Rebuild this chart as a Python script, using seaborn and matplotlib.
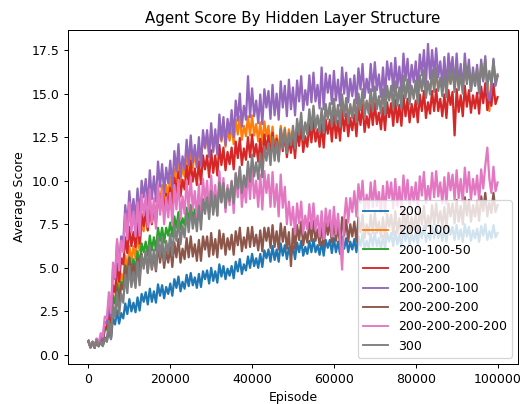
import pandas as pd
import matplotlib
matplotlib.use("Agg")
import matplotlib.pyplot as plt
import seaborn as sns

# --- Data (one value per 500 episodes) ---
EPISODES = list(range(0, 100001, 500))

SCORE_200 = [
    0.75, 0.45, 0.7, 0.4, 0.8, 0.5, 0.8, 0.55, 0.9, 0.8,
    1.45, 0.95, 2.1, 1.75, 2.55, 1.8, 2.4, 2.1, 2.95, 2.35,
    3.2, 2.5, 3.0, 2.45, 3.3, 2.55, 3.5, 3.05, 3.6, 2.9,
    3.8, 3.05, 3.65, 3.0, 4.05, 3.4, 4.0, 3.25, 3.9, 3.5,
    4.1, 3.4, 4.35, 3.85, 4.5, 3.65, 4.2, 3.8, 4.6, 3.95,
    4.7, 4.0, 4.45, 3.85, 4.65, 3.9, 4.8, 4.35, 4.85, 4.1,
    5.0, 4.25, 4.8, 4.15, 5.2, 4.5, 5.1, 4.35, 4.95, 4.55,
    5.1, 4.4, 5.35, 4.8, 5.5, 4.65, 5.2, 4.85, 5.65, 5.0,
    5.8, 5.1, 5.55, 5.0, 5.8, 5.05, 6.0, 5.55, 6.05, 5.35,
    6.25, 5.45, 6.05, 5.35, 6.4, 5.7, 6.3, 5.5, 6.15, 5.7,
    6.25, 5.5, 6.45, 5.9, 6.55, 5.7, 6.2, 5.8, 6.55, 5.9,
    6.65, 5.9, 6.3, 5.75, 6.5, 5.7, 6.6, 6.15, 6.6, 5.85,
    6.7, 5.9, 6.5, 5.8, 6.8, 6.1, 6.7, 5.9, 6.5, 6.05,
    6.65, 5.9, 6.8, 6.25, 6.95, 6.05, 6.55, 6.15, 6.95, 6.25,
    7.0, 6.25, 6.7, 6.1, 6.85, 6.1, 7.0, 6.5, 7.0, 6.25,
    7.1, 6.35, 6.9, 6.2, 7.25, 6.55, 7.1, 6.35, 6.95, 6.5,
    7.05, 6.35, 7.25, 6.7, 7.4, 6.5, 7.0, 6.6, 7.4, 6.7,
    7.45, 6.7, 7.15, 6.55, 7.3, 6.5, 7.4, 6.9, 7.35, 6.6,
    7.45, 6.65, 7.2, 6.5, 7.5, 6.8, 7.35, 6.55, 7.15, 6.7,
    7.25, 6.5, 7.4, 6.85, 7.5, 6.6, 7.1, 6.7, 7.45, 6.75,
    7.0,
]
SCORE_200_100 = [
    0.8, 0.45, 0.75, 0.45, 0.9, 0.6, 1.05, 0.85, 1.5, 1.45,
    2.4, 1.65, 3.4, 3.0, 4.45, 3.5, 4.65, 4.3, 5.7, 4.85,
    6.25, 5.35, 6.25, 5.55, 6.95, 6.0, 7.6, 7.1, 8.05, 7.15,
    8.7, 7.65, 8.7, 7.85, 9.55, 8.7, 9.75, 8.65, 9.75, 9.2,
    10.2, 9.2, 10.7, 9.95, 11.1, 9.9, 10.75, 10.25, 11.55, 10.5,
    11.75, 10.75, 11.55, 10.75, 12.05, 11.0, 12.5, 11.85, 12.65, 11.55,
    12.9, 11.75, 12.65, 11.7, 13.25, 12.25, 13.15, 11.95, 12.95, 12.3,
    13.2, 12.1, 13.5, 12.65, 13.7, 12.35, 13.15, 12.55, 13.7, 12.6,
    13.75, 12.6, 13.25, 12.25, 13.35, 12.1, 13.4, 12.55, 13.15, 11.9,
    13.1, 11.8, 12.6, 11.55, 13.15, 12.1, 13.05, 11.85, 12.95, 12.3,
    12.9, 12.35, 13.15, 12.8, 13.4, 12.75, 13.25, 12.95, 13.65, 13.15,
    13.8, 13.25, 13.6, 13.2, 13.85, 13.25, 14.0, 13.65, 14.1, 13.55,
    14.25, 13.65, 14.15, 13.6, 14.45, 13.9, 14.4, 13.75, 14.25, 13.9,
    14.4, 13.85, 14.6, 14.2, 14.75, 14.05, 14.5, 14.15, 14.8, 14.25,
    14.9, 14.35, 14.7, 14.3, 14.95, 14.3, 15.05, 14.7, 15.1, 14.55,
    15.25, 14.65, 15.15, 14.65, 15.5, 14.95, 15.45, 14.85, 15.3, 15.0,
    15.5, 14.9, 15.65, 15.3, 15.85, 15.15, 15.6, 15.25, 15.9, 15.35,
    16.0, 15.4, 15.75, 15.3, 15.95, 15.3, 16.05, 15.65, 16.1, 15.5,
    16.15, 15.55, 16.0, 15.5, 16.3, 15.75, 16.25, 15.6, 16.1, 15.75,
    16.2, 15.6, 16.35, 15.95, 16.45, 15.8, 14.0, 15.85, 16.45, 15.9,
    16.0,
]
SCORE_200_100_50 = [
    0.8, 0.45, 0.75, 0.45, 0.9, 0.6, 1.05, 0.85, 1.5, 1.45,
    2.3, 1.8, 3.3, 2.95, 4.1, 3.3, 4.2, 4.0, 5.15, 4.5,
    5.6, 4.85, 5.5, 4.9, 5.95, 5.15, 6.4, 5.9, 6.5, 5.7,
    6.85, 6.0, 6.75, 6.0, 7.3, 6.55, 7.3, 6.45, 7.3, 6.85,
    7.6, 6.8, 7.95, 7.3, 8.2, 7.2, 7.85, 7.45, 8.45, 7.65,
    8.6, 7.8, 8.35, 7.65, 8.65, 7.8, 8.95, 8.4, 9.0, 8.2,
    9.3, 8.4, 9.15, 8.4, 9.65, 8.85, 9.6, 8.75, 9.55, 9.05,
    9.8, 8.95, 10.1, 9.45, 10.3, 9.25, 9.95, 9.55, 10.55, 9.75,
    10.1,
]
SCORE_200_200 = [
    0.8, 0.45, 0.75, 0.45, 0.9, 0.6, 1.05, 0.85, 1.6, 1.55,
    2.6, 1.9, 4.0, 3.6, 5.25, 4.2, 5.55, 5.2, 6.75, 5.85,
    7.35, 6.25, 7.05, 6.2, 7.6, 6.4, 8.1, 7.4, 8.3, 7.15,
    8.75, 7.5, 8.6, 7.55, 9.35, 8.25, 9.35, 8.15, 9.25, 8.6,
    9.6, 8.45, 10.15, 9.3, 10.5, 9.1, 10.05, 9.5, 10.85, 9.8,
    11.15, 9.95, 10.7, 9.75, 11.1, 9.8, 11.45, 10.65, 11.45, 10.2,
    11.75, 10.45, 11.45, 10.3, 12.05, 10.9, 11.9, 10.6, 11.65, 10.95,
    11.9, 10.65, 12.25, 11.3, 12.45, 10.9, 11.85, 11.2, 12.5, 11.35,
    12.65, 11.4, 12.1, 11.1, 12.4, 11.05, 12.65, 11.8, 12.6, 11.3,
    12.75, 11.4, 12.4, 11.2, 12.9, 11.7, 12.7, 11.35, 12.35, 11.6,
    12.5, 11.3, 12.9, 12.0, 13.15, 11.65, 12.55, 11.95, 13.25, 12.2,
    13.45, 12.25, 12.95, 11.95, 13.25, 11.9, 13.5, 12.7, 13.5, 12.25,
    13.75, 12.45, 13.45, 12.3, 14.0, 12.85, 13.85, 12.55, 13.6, 12.9,
    13.8, 12.55, 14.15, 13.2, 14.35, 12.8, 13.7, 13.05, 14.35, 13.2,
    14.45, 13.25, 13.9, 12.95, 14.2, 12.9, 14.5, 13.65, 14.45, 13.15,
    14.65, 13.35, 14.35, 13.15, 14.9, 13.7, 14.7, 13.35, 14.4, 13.65,
    14.6, 13.35, 14.95, 14.0, 15.15, 13.6, 14.5, 13.85, 15.15, 14.0,
    15.25, 14.0, 14.7, 13.7, 14.95, 13.6, 15.2, 14.35, 15.1, 12.6,
    15.25, 13.95, 14.9, 13.7, 15.45, 14.25, 15.2, 13.9, 14.9, 14.15,
    15.05, 13.85, 15.4, 14.45, 15.6, 14.05, 14.9, 14.3, 15.55, 14.4,
    14.8,
]
SCORE_200_200_100 = [
    0.8, 0.45, 0.75, 0.45, 0.9, 0.6, 1.1, 0.9, 1.9, 1.8,
    3.15, 2.2, 4.9, 4.35, 6.5, 5.1, 6.8, 6.45, 8.6, 7.4,
    9.4, 7.9, 8.95, 7.75, 9.55, 7.9, 10.0, 9.05, 10.1, 8.6,
    10.6, 8.95, 10.25, 8.8, 11.1, 9.65, 10.95, 9.3, 10.75, 9.85,
    11.15, 9.6, 11.7, 10.55, 12.1, 10.2, 11.4, 10.65, 12.35, 10.9,
    12.6, 11.05, 12.05, 10.8, 12.5, 10.85, 12.9, 11.9, 12.9, 11.35,
    13.3, 11.65, 12.95, 11.5, 13.8, 12.35, 13.65, 12.05, 13.55, 12.7,
    14.05, 12.5, 14.6, 13.45, 15.0, 13.1, 14.3, 13.5, 16.0, 13.65,
    15.3, 13.7, 14.6, 13.3, 14.95, 13.25, 15.25, 14.2, 15.15, 13.55,
    15.5, 13.75, 15.0, 13.5, 15.7, 14.2, 15.45, 13.7, 15.8, 14.1,
    15.35, 13.75, 15.75, 14.55, 16.0, 14.05, 15.2, 14.35, 16.05, 14.5,
    16.2, 14.55, 15.5, 14.15, 16.5, 14.1, 16.15, 15.05, 16.05, 14.4,
    16.3, 14.6, 15.8, 14.3, 16.5, 15.0, 16.2, 14.5, 15.85, 14.85,
    16.05, 14.45, 16.45, 15.25, 16.7, 14.75, 15.85, 15.05, 16.7, 15.15,
    16.8, 15.2, 16.1, 14.8, 16.5, 14.8, 16.85, 15.8, 16.75, 15.15,
    17.05, 15.35, 16.55, 15.05, 17.3, 15.75, 17.0, 15.25, 16.65, 15.65,
    16.85, 15.25, 17.25, 16.05, 17.5, 15.55, 17.85, 15.85, 17.5, 15.95,
    17.6, 15.95, 16.85, 15.45, 17.1, 15.3, 17.3, 16.15, 17.1, 15.4,
    17.3, 15.55, 16.7, 15.15, 17.3, 15.75, 16.95, 15.15, 16.5, 15.45,
    16.65, 15.0, 16.95, 15.7, 17.15, 15.1, 14.6, 15.35, 17.0, 15.45,
    16.0,
]
SCORE_200_200_200 = [
    0.8, 0.45, 0.7, 0.4, 0.8, 0.5, 0.8, 0.55, 1.0, 0.85,
    1.7, 0.95, 2.7, 2.35, 3.85, 2.9, 4.05, 3.75, 5.1, 4.2,
    5.55, 4.5, 5.2, 4.3, 5.55, 4.4, 5.8, 5.1, 5.85, 4.75,
    6.1, 4.9, 5.8, 4.8, 6.35, 5.3, 6.2, 5.0, 5.95, 5.3,
    6.2, 5.05, 6.45, 5.6, 6.65, 5.3, 6.1, 5.5, 6.7, 5.6,
    6.8, 5.65, 6.35, 5.4, 6.6, 5.4, 6.8, 6.05, 6.8, 5.65,
    7.0, 5.75, 6.65, 5.6, 7.15, 6.1, 6.95, 5.75, 6.7, 6.05,
    6.9, 5.75, 7.1, 6.3, 7.3, 5.95, 6.75, 6.15, 7.3, 6.2,
    7.35, 6.25, 6.9, 6.0, 7.15, 5.95, 7.3, 6.55, 7.3, 6.15,
    7.45, 6.2, 7.1, 6.05, 7.55, 6.5, 7.35, 6.1, 7.05, 5.1,
    7.25, 6.1, 7.45, 6.6, 7.65, 6.3, 7.05, 6.45, 7.6, 6.55,
    7.7, 6.55, 7.2, 6.3, 7.45, 6.25, 7.6, 6.9, 7.6, 6.45,
    7.75, 6.55, 7.4, 6.35, 7.9, 6.85, 7.75, 6.5, 7.5, 6.8,
    7.65, 6.5, 7.9, 7.05, 8.05, 6.7, 7.5, 6.9, 8.05, 7.0,
    8.15, 7.0, 7.65, 6.75, 7.9, 6.7, 8.1, 7.35, 8.05, 6.9,
    8.25, 7.0, 7.85, 6.85, 8.35, 7.3, 8.15, 6.95, 7.9, 7.2,
    8.1, 6.95, 8.35, 7.5, 8.55, 7.2, 8.0, 7.4, 8.6, 7.5,
    8.7, 7.55, 8.25, 7.3, 8.5, 7.3, 8.7, 7.95, 8.7, 7.55,
    8.9, 7.65, 8.55, 7.5, 9.05, 8.0, 8.9, 7.65, 8.6, 7.95,
    8.85, 7.7, 9.1, 8.25, 9.3, 7.95, 8.75, 8.15, 9.3, 8.2,
    8.6,
]
SCORE_200_200_200_200 = [
    0.8, 0.45, 0.75, 0.45, 0.95, 0.65, 1.25, 1.05, 2.2, 2.1,
    3.6, 2.4, 5.3, 4.45, 6.65, 4.85, 6.55, 5.9, 8.1, 6.65,
    8.75, 7.05, 8.2, 6.8, 8.75, 6.85, 9.2, 8.0, 9.15, 7.35,
    9.5, 7.6, 9.0, 7.25, 9.8, 8.05, 9.45, 7.5, 9.05, 7.9,
    9.3, 7.45, 9.75, 8.35, 10.05, 7.8, 9.1, 8.1, 10.0, 8.3,
    10.2, 8.35, 9.4, 7.9, 9.8, 7.8, 10.1, 8.85, 10.0, 8.15,
    10.3, 8.35, 9.75, 8.0, 10.55, 8.8, 10.15, 8.2, 9.75, 8.6,
    10.0, 8.15, 10.45, 9.05, 10.75, 8.5, 9.75, 8.75, 10.65, 8.95,
    10.85, 9.0, 10.0, 8.5, 10.35, 8.35, 10.55, 9.3, 10.35, 8.5,
    10.5, 8.5, 9.8, 7.95, 10.35, 8.45, 9.65, 7.5, 8.8, 7.45,
    8.5, 6.95, 8.7, 7.55, 8.8, 7.0, 8.0, 7.2, 8.65, 7.25,
    8.7, 7.2, 8.0, 6.8, 8.25, 6.65, 8.4, 7.4, 8.3, 6.8,
    8.5, 6.95, 8.1, 6.8, 4.9, 7.7, 9.0, 7.6, 9.0, 8.2,
    9.4, 7.95, 9.8, 8.7, 10.0, 8.2, 9.2, 8.4, 9.9, 8.5,
    10.0, 8.55, 9.35, 8.2, 9.7, 8.15, 9.95, 9.0, 9.9, 8.4,
    10.1, 8.55, 9.65, 8.3, 10.3, 8.9, 10.05, 8.45, 9.65, 8.8,
    9.9, 8.4, 10.25, 9.15, 10.5, 8.7, 9.7, 8.9, 10.45, 9.05,
    10.55, 9.1, 9.9, 8.7, 10.2, 8.65, 10.45, 9.45, 10.35, 8.9,
    10.6, 9.0, 10.1, 8.75, 10.75, 9.35, 10.5, 8.9, 10.1, 9.2,
    10.3, 8.85, 10.65, 9.55, 10.85, 11.9, 10.1, 9.3, 10.8, 9.4,
    9.9,
]
SCORE_300 = [
    0.8, 0.4, 0.75, 0.45, 0.85, 0.5, 0.8, 0.5, 0.95, 0.75,
    1.95, 0.9, 2.8, 2.15, 3.6, 2.3, 3.5, 3.0, 4.6, 3.55,
    5.1, 3.9, 4.75, 3.85, 5.35, 4.0, 5.7, 4.95, 5.95, 4.7,
    6.3, 4.95, 6.05, 4.9, 6.8, 5.65, 6.75, 5.4, 6.55, 5.85,
    6.95, 5.7, 7.4, 6.55, 7.8, 6.35, 7.4, 6.75, 8.2, 7.05,
    8.5, 7.25, 8.05, 7.1, 8.55, 7.2, 8.9, 8.1, 9.05, 7.8,
    9.4, 8.05, 9.15, 8.0, 9.9, 8.75, 9.85, 8.45, 9.55, 8.85,
    9.95, 8.7, 10.4, 9.55, 10.8, 9.3, 10.3, 9.65, 11.1, 9.95,
    11.5, 10.25, 11.05, 10.1, 11.55, 10.2, 11.95, 11.15, 12.15, 10.9,
    12.5, 11.15, 12.25, 11.1, 13.0, 11.85, 12.95, 11.6, 12.75, 12.05,
    13.15, 11.85, 13.55, 12.65, 13.9, 12.35, 13.35, 12.65, 14.1, 12.9,
    14.3, 13.0, 13.75, 12.75, 14.15, 12.75, 14.4, 13.55, 14.45, 13.15,
    14.7, 13.3, 14.35, 13.1, 14.95, 13.7, 14.75, 13.3, 14.4, 13.6,
    14.65, 13.35, 15.0, 14.05, 15.25, 13.65, 14.6, 13.85, 15.25, 14.0,
    15.4, 14.1, 14.85, 13.85, 15.25, 13.8, 15.45, 14.6, 15.45, 14.15,
    15.7, 14.3, 15.35, 14.15, 16.0, 14.75, 15.8, 14.4, 15.45, 14.7,
    15.75, 14.4, 16.05, 15.15, 16.35, 14.75, 15.7, 14.95, 16.35, 15.1,
    16.5, 15.15, 15.9, 14.85, 16.25, 14.8, 16.45, 15.55, 16.45, 15.1,
    16.6, 15.2, 16.2, 15.0, 16.8, 15.55, 16.6, 15.15, 16.25, 15.45,
    16.45, 15.1, 16.75, 15.8, 16.95, 15.4, 16.3, 15.55, 16.9, 15.65,
    16.1,
]

LABELS = ['200', '200-100', '200-100-50', '200-200', '200-200-100',
          '200-200-200', '200-200-200-200', '300']
SERIES = [SCORE_200, SCORE_200_100, SCORE_200_100_50, SCORE_200_200,
          SCORE_200_200_100, SCORE_200_200_200, SCORE_200_200_200_200, SCORE_300]

# --- Plot ---
fig = plt.figure(figsize=(521 / 90, 404 / 90), dpi=90)
ax = fig.add_axes([68 / 521, 40 / 404, 450 / 521, 334 / 404])
colors = sns.color_palette('tab10', 8)

for label, values, color in zip(LABELS, SERIES, colors):
    df = pd.DataFrame({'Episode': EPISODES[:len(values)], 'Average Score': values})
    sns.lineplot(data=df, x='Episode', y='Average Score', color=color,
                 label=label, estimator=None, linewidth=1.8, ax=ax)

ax.set_xlim(-5000, 105000)
ax.set_ylim(-0.52, 18.65)
ax.set_title('Agent Score By Hidden Layer Structure')
ax.set_xlabel('Episode')
ax.set_ylabel('Average Score')
leg = ax.legend(loc='lower right')
for line in leg.get_lines():
    line.set_linewidth(1.5)

fig.savefig('out.png', dpi=90)
